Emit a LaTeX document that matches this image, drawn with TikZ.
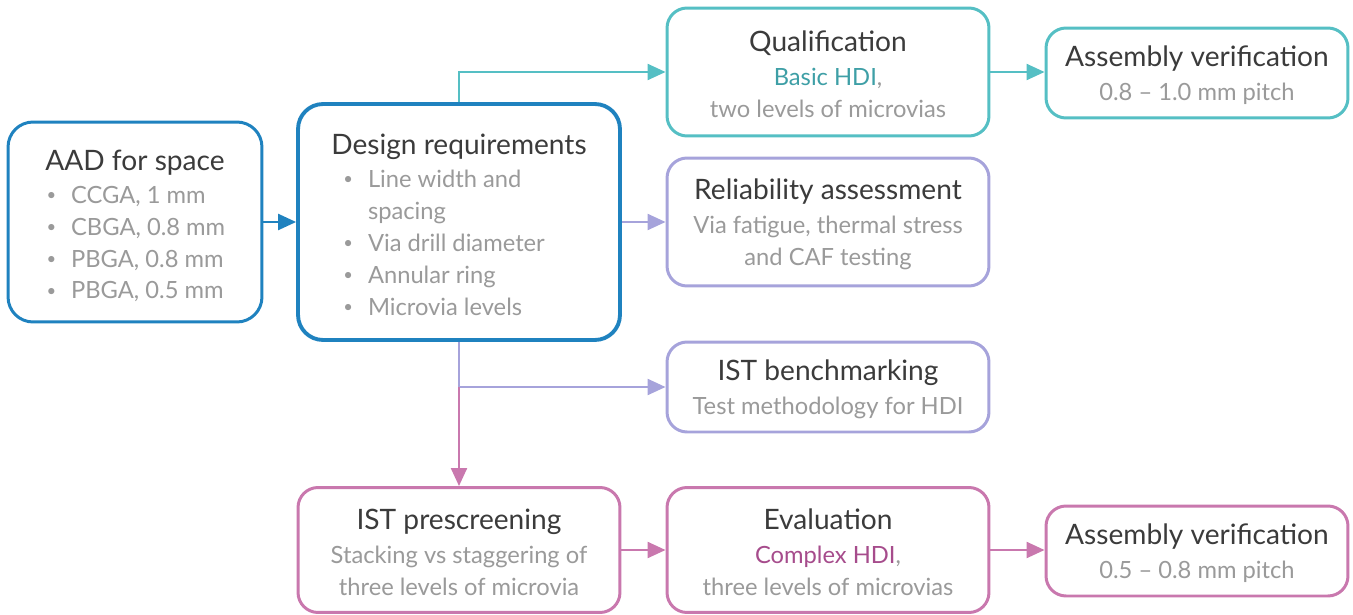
\documentclass[tikz,border=0pt]{standalone}
\usepackage{fontspec}
\setmainfont{Lato}
\usetikzlibrary{arrows.meta,positioning}

\definecolor{aadblue}{HTML}{1F82BF}
\definecolor{qualteal}{HTML}{55BFC4}
\definecolor{relpurple}{HTML}{A6A3DB}
\definecolor{istpink}{HTML}{C978AE}
\definecolor{titlegray}{HTML}{3B3B3B}
\definecolor{subgray}{HTML}{9A9A9A}
\definecolor{basicteal}{HTML}{3E9FA6}
\definecolor{complexpink}{HTML}{A64C8C}

\newcommand{\subsize}{\fontsize{13.5}{18.2}\selectfont}
% optional arg: strut height of the headline
\newcommand{\headline}[2][14.5pt]{{\fontsize{16}{18.2}\selectfont\color{titlegray}\rule{0pt}{#1}#2}}
\newcommand{\itm}{\makebox[15pt][l]{\hspace{1pt}\raisebox{0.12em}{\scalebox{0.7}{\textbullet}}}}

\tikzset{
  box/.style={draw, rounded corners=0.4cm, line width=1.7pt, fill=white,
    align=center, inner sep=0pt, font=\subsize, text=subgray},
  bigbox/.style={box, rounded corners=0.5cm},
  conn/.style={line width=1.3pt, -{Triangle[length=0.36cm,width=0.32cm]}}
}

\begin{document}
\begin{tikzpicture}[x=0.02cm,y=-0.02cm]
\useasboundingbox (0,0) rectangle (1353,615);

%%% LEFT COLUMN %%%
\node[bigbox, draw=aadblue, minimum width=5.08cm, minimum height=4cm] (aad) at (135,222)
  {\headline[20pt]{AAD for space}\\[2pt]
   \begin{tabular}{@{}l@{}}
   \itm CCGA, 1 mm\\
   \itm CBGA, 0.8 mm\\
   \itm PBGA, 0.8 mm\\
   \itm PBGA, 0.5 mm
   \end{tabular}};
\node[bigbox, draw=aadblue, line width=2.2pt, minimum width=6.44cm, minimum height=4.72cm] (design) at (459,222)
  {\headline[20pt]{Design requirements}\\[2pt]
   \hspace*{-0.63cm}\begin{tabular}{@{}l@{}}
   \itm Line width and\\
   \hspace*{15pt}spacing\\
   \itm Via drill diameter\\
   \itm Annular ring\\
   \itm Microvia levels
   \end{tabular}};
\node[box, draw=istpink, minimum width=6.44cm, minimum height=2.5cm] (pre) at (459,550)
  {\headline{IST prescreening}\\[1pt]
   Stacking vs staggering of\\
   three levels of microvia};

%%% MIDDLE COLUMN %%%
\node[box, draw=qualteal, minimum width=6.44cm, minimum height=2.56cm] (qual) at (828,72)
  {\headline{Qualification}\\[1pt]
   {\color{basicteal}Basic HDI},\\
   two levels of microvias};
\node[box, draw=relpurple, minimum width=6.44cm, minimum height=2.56cm] (rel) at (828,222)
  {\headline{Reliability assessment}\\[1pt]
   Via fatigue, thermal stress\\
   and CAF testing};
\node[box, draw=relpurple, minimum width=6.44cm, minimum height=1.8cm] (bench) at (828,387)
  {\headline{IST benchmarking}\\[1pt]
   Test methodology for HDI};
\node[box, draw=istpink, minimum width=6.44cm, minimum height=2.5cm] (eval) at (828,550)
  {\headline{Evaluation}\\[1pt]
   {\color{complexpink}Complex HDI},\\
   three levels of microvias};

%%% RIGHT COLUMN %%%
\node[box, draw=qualteal, minimum width=6.04cm, minimum height=1.8cm] (asmtop) at (1197,73)
  {\headline{Assembly verification}\\[1pt]
   0.8 -- 1.0 mm pitch};
\node[box, draw=istpink, minimum width=6.04cm, minimum height=1.8cm] (asmbot) at (1197,551)
  {\headline{Assembly verification}\\[1pt]
   0.5 -- 0.8 mm pitch};

%%% CONNECTORS %%%
\coordinate (split) at (design.south |- bench.west);
\draw[conn, aadblue] (aad) -- (design);
\draw[conn, qualteal] (design.north) |- (qual.west);
\draw[conn, qualteal] (qual) -- (asmtop.west |- qual);
\draw[conn, relpurple] (design) -- (rel);
\draw[conn, relpurple] (design.south) |- (bench.west);
\draw[conn, istpink] (split) -- (pre.north);
\draw[conn, istpink] (pre) -- (eval);
\draw[conn, istpink] (eval) -- (asmbot.west |- eval);
\end{tikzpicture}
\end{document}
